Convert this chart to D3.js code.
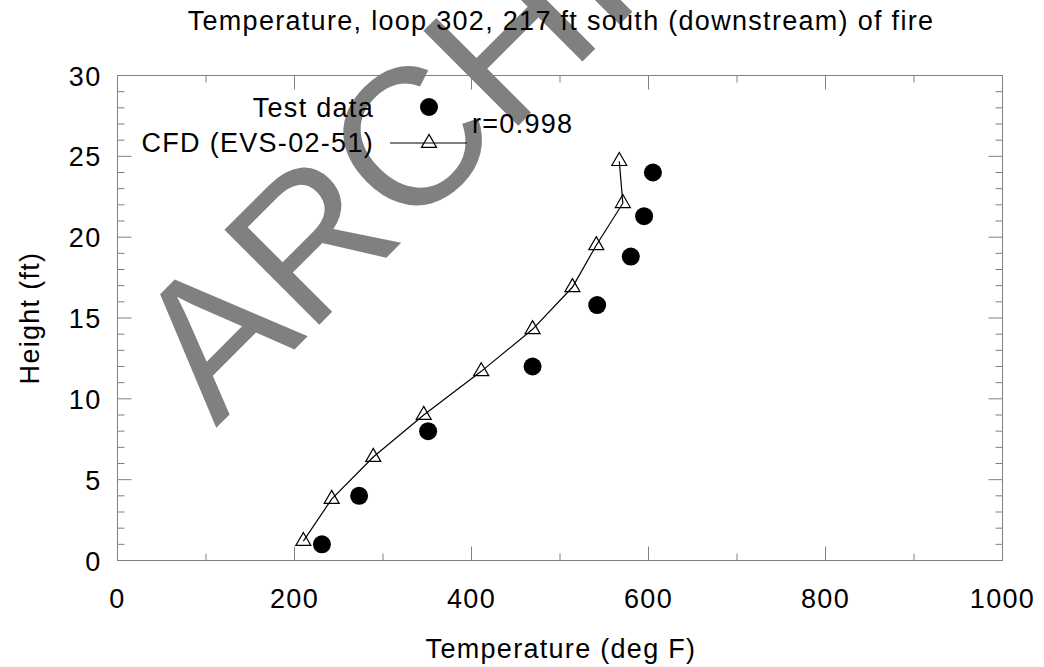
<!DOCTYPE html>
<html>
<head>
<meta charset="utf-8">
<script src="https://cdn.jsdelivr.net/npm/d3@7"></script>
<style>
  body { margin: 0; background: #fff; }
  text { font-family: "Liberation Sans", Arial, sans-serif; fill: #000; }
  .lbl { font-size: 27px; letter-spacing: 1.3px; }
</style>
</head>
<body>
<div id="chart"></div>
<script>
// Test data (filled circles)
const testTemp = [231, 273, 351, 469, 542, 580, 595, 605];
const testHeight = [1, 4, 8, 12, 15.8, 18.8, 21.3, 24];

// CFD (EVS-02-51) line with open triangles
const cfdTemp = [210, 242, 289, 346, 411, 469, 514, 541, 571, 567];
const cfdHeight = [1.2, 3.8, 6.4, 9.0, 11.7, 14.3, 16.9, 19.5, 22.1, 24.7];

const xTicks = [0, 200, 400, 600, 800, 1000];
const yTicks = [0, 5, 10, 15, 20, 25, 30];

const width = 1044;
const height = 667;
const margin = { top: 75.5, right: 41.5, bottom: 106.5, left: 117.5 };
const w = width - margin.left - margin.right;
const h = height - margin.top - margin.bottom;

const svg = d3.select("#chart")
    .append("svg")
    .attr("width", width)
    .attr("height", height);

// watermark, sits behind everything
svg.append("text")
    .attr("transform", "translate(216,428) rotate(-45)")
    .style("font-size", "195px")
    .style("fill", "#808080")
    .text("ARCHIVED");

const g = svg.append("g")
    .attr("transform", `translate(${margin.left},${margin.top})`);

const x = d3.scaleLinear().domain([0, 1000]).range([0, w]);
const y = d3.scaleLinear().domain([0, 30]).range([h, 0]);

const gray = "#808080";

// ticks: major + minor, mirrored on all four sides
const xMinor = d3.range(100, 1000, 200);
const yMinor = d3.range(0, 31).filter(v => v % 5 !== 0);

function tickLines(vals, len, axis) {
    vals.forEach(v => {
        if (axis === "x") {
            g.append("line").attr("x1", x(v)).attr("x2", x(v)).attr("y1", h).attr("y2", h - len);
            g.append("line").attr("x1", x(v)).attr("x2", x(v)).attr("y1", 0).attr("y2", len);
        } else {
            g.append("line").attr("x1", 0).attr("x2", len).attr("y1", y(v)).attr("y2", y(v));
            g.append("line").attr("x1", w).attr("x2", w - len).attr("y1", y(v)).attr("y2", y(v));
        }
    });
}
tickLines(xTicks, 14, "x");
tickLines(xMinor, 7, "x");
tickLines(yTicks, 14, "y");
tickLines(yMinor, 7, "y");
g.selectAll("line").attr("stroke", gray).attr("stroke-width", 1);

// frame
g.append("rect")
    .attr("width", w)
    .attr("height", h)
    .attr("fill", "none")
    .attr("stroke", gray)
    .attr("stroke-width", 1);

// tick labels
g.selectAll(".xlab")
    .data(xTicks)
    .enter()
    .append("text")
    .attr("class", "lbl")
    .attr("x", d => x(d))
    .attr("y", h + 47)
    .attr("text-anchor", "middle")
    .text(d => d);

g.selectAll(".ylab")
    .data(yTicks)
    .enter()
    .append("text")
    .attr("class", "lbl")
    .attr("x", -16)
    .attr("y", d => y(d) + 10)
    .attr("text-anchor", "end")
    .text(d => d);

// titles
svg.append("text")
    .attr("class", "lbl")
    .attr("x", 561)
    .attr("y", 30)
    .attr("text-anchor", "middle")
    .text("Temperature, loop 302, 217 ft south (downstream) of fire");

svg.append("text")
    .attr("class", "lbl")
    .attr("x", 561)
    .attr("y", 658)
    .attr("text-anchor", "middle")
    .text("Temperature (deg F)");

svg.append("text")
    .attr("class", "lbl")
    .attr("transform", `translate(39,${margin.top + h / 2}) rotate(-90)`)
    .attr("text-anchor", "middle")
    .text("Height (ft)");

// triangle path centred on its centroid
const triH = 13, triW = 7.5;
const tri = `M0,${-2 * triH / 3}L${triW},${triH / 3}L${-triW},${triH / 3}Z`;

// CFD line
const cfd = cfdTemp.map((t, i) => ({ t: t, z: cfdHeight[i] }));
g.append("path")
    .datum(cfd)
    .attr("fill", "none")
    .attr("stroke", "#000")
    .attr("stroke-width", 1.2)
    .attr("d", d3.line().x(d => x(d.t)).y(d => y(d.z)));

g.selectAll(".tri")
    .data(cfd)
    .enter()
    .append("path")
    .attr("d", tri)
    .attr("transform", d => `translate(${x(d.t)},${y(d.z)})`)
    .attr("fill", "none")
    .attr("stroke", "#000")
    .attr("stroke-width", 1.2);

// test data
g.selectAll(".dot")
    .data(testTemp.map((t, i) => ({ t: t, z: testHeight[i] })))
    .enter()
    .append("circle")
    .attr("cx", d => x(d.t))
    .attr("cy", d => y(d.z))
    .attr("r", 9)
    .attr("fill", "#000");

// legend
const legend = svg.append("g");
legend.append("text")
    .attr("class", "lbl")
    .attr("x", 374).attr("y", 117)
    .attr("text-anchor", "end")
    .text("Test data");
legend.append("circle")
    .attr("cx", 429).attr("cy", 107)
    .attr("r", 9)
    .attr("fill", "#000");
legend.append("text")
    .attr("class", "lbl")
    .attr("x", 374).attr("y", 152)
    .attr("text-anchor", "end")
    .text("CFD (EVS-02-51)");
legend.append("line")
    .attr("x1", 390).attr("x2", 467)
    .attr("y1", 143).attr("y2", 143)
    .attr("stroke", "#000")
    .attr("stroke-width", 1.2);
legend.append("path")
    .attr("d", tri)
    .attr("transform", "translate(429,143)")
    .attr("fill", "none")
    .attr("stroke", "#000")
    .attr("stroke-width", 1.2);

svg.append("text")
    .attr("class", "lbl")
    .attr("x", 472).attr("y", 133)
    .text("r=0.998");
</script>
</body>
</html>
